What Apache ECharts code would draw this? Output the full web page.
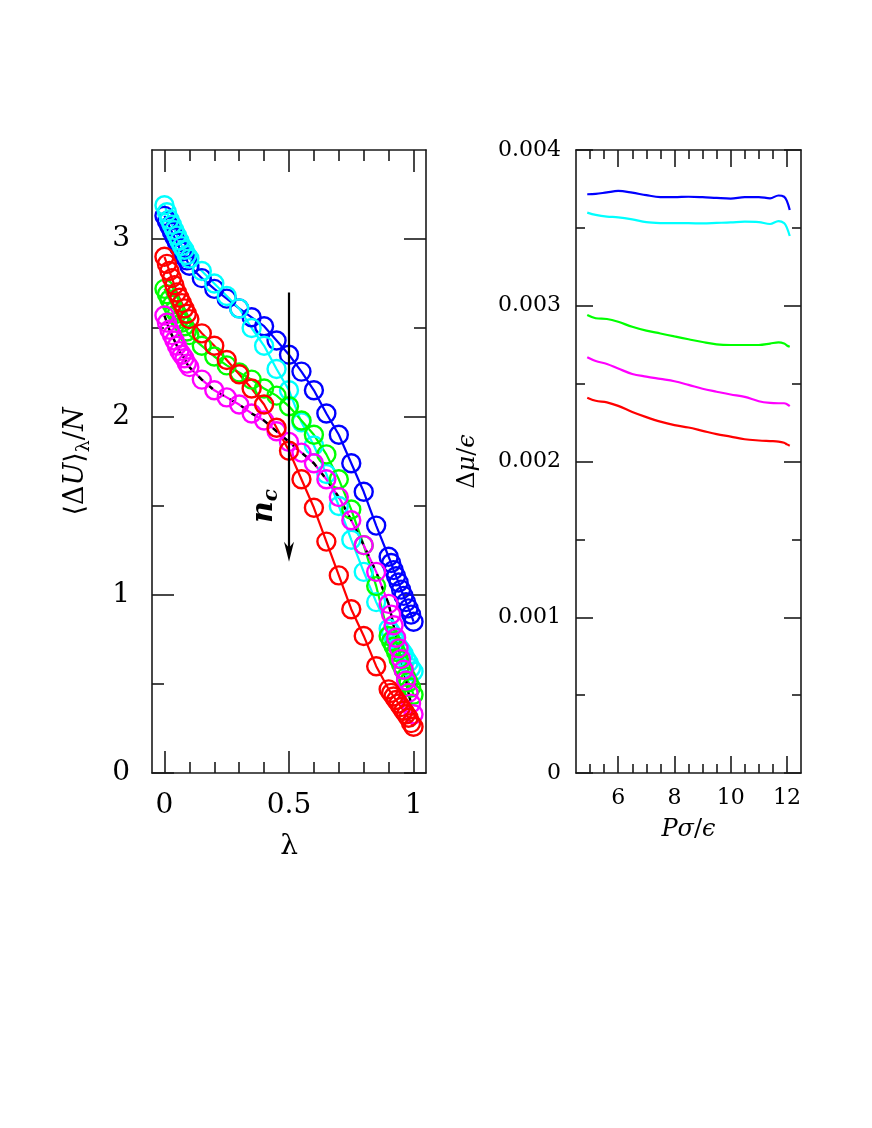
<!DOCTYPE html>
<html><head><meta charset="utf-8">
<script src="https://cdn.jsdelivr.net/npm/echarts@6/dist/echarts.min.js"></script>
<style>html,body{margin:0;padding:0;background:#fff}#c{width:872px;height:1128px}</style>
</head><body><div id="c"></div>
<script>
// ---- left panel data: <ΔU>_λ / N versus λ ----
const lambda = [0,0.01,0.02,0.03,0.04,0.05,0.06,0.07,0.08,0.09,0.10,
  0.15,0.20,0.25,0.30,0.35,0.40,0.45,0.50,0.55,0.60,0.65,0.70,0.75,0.80,0.85,
  0.90,0.91,0.92,0.93,0.94,0.95,0.96,0.97,0.98,0.99,1.00];
const uBlue = [3.13,3.10,3.07,3.04,3.01,2.98,2.95,2.93,2.90,2.88,2.85,
  2.78,2.72,2.665,2.61,2.56,2.51,2.43,2.35,2.255,2.15,2.02,1.90,1.74,1.58,1.39,
  1.215,1.18,1.14,1.105,1.07,1.03,0.995,0.96,0.925,0.89,0.85];
const uCyan = [3.19,3.15,3.11,3.08,3.05,3.02,2.99,2.96,2.94,2.91,2.89,
  2.82,2.75,2.68,2.61,2.50,2.40,2.27,2.15,1.97,1.84,1.68,1.50,1.31,1.13,0.96,
  0.81,0.79,0.76,0.74,0.71,0.69,0.67,0.64,0.62,0.59,0.57];
const uGreen = [2.72,2.69,2.66,2.63,2.60,2.58,2.55,2.53,2.51,2.48,2.46,
  2.40,2.34,2.29,2.25,2.21,2.16,2.12,2.06,1.98,1.90,1.79,1.65,1.48,1.28,1.05,
  0.77,0.74,0.71,0.68,0.64,0.61,0.58,0.54,0.51,0.48,0.44];
const uMagenta = [2.57,2.53,2.49,2.46,2.43,2.40,2.37,2.35,2.33,2.30,2.28,
  2.21,2.15,2.11,2.07,2.02,1.98,1.92,1.86,1.80,1.74,1.65,1.55,1.42,1.28,1.13,
  0.95,0.89,0.83,0.76,0.70,0.64,0.58,0.52,0.45,0.39,0.33];
const uRed = [2.90,2.86,2.82,2.78,2.74,2.70,2.67,2.64,2.61,2.58,2.55,
  2.47,2.40,2.32,2.24,2.16,2.07,1.94,1.81,1.65,1.49,1.30,1.11,0.92,0.77,0.60,
  0.47,0.45,0.43,0.41,0.39,0.37,0.35,0.33,0.31,0.28,0.26];
// arrow (λ, from, to) and label anchor (λ, value)
const arrowNc = [[0.5, 2.70, 1.187]];
const labelNc = [[0.405, 1.50]];

// ---- right panel data: Δμ/ε versus Pσ/ε ----
const pressure = [4.9,5.2,5.6,6.0,6.5,7.0,7.5,8.0,8.5,9.0,9.5,10.0,10.5,11.0,11.4,11.7,11.9,12.0,12.1];
const muBlue = [0.003716,0.003718,0.003728,0.003737,0.003726,0.003710,0.003698,0.003697,0.003700,0.003697,0.003692,0.003688,0.003698,0.003698,0.003690,0.003708,0.003700,0.003672,0.003615];
const muCyan = [0.003598,0.003583,0.003572,0.003568,0.003555,0.003537,0.003531,0.003530,0.003530,0.003529,0.003532,0.003535,0.003540,0.003537,0.003525,0.003543,0.003530,0.003500,0.003448];
const muGreen = [0.002941,0.002920,0.002915,0.002897,0.002865,0.002840,0.002822,0.002803,0.002785,0.002767,0.002752,0.002748,0.002748,0.002748,0.002757,0.002765,0.002758,0.002745,0.002737];
const muMagenta = [0.002669,0.002645,0.002626,0.002597,0.002562,0.002545,0.002530,0.002515,0.002492,0.002467,0.002448,0.002430,0.002415,0.002387,0.002376,0.002374,0.002374,0.002368,0.002356];
const muRed = [0.002410,0.002390,0.002380,0.002357,0.002318,0.002285,0.002256,0.002234,0.002218,0.002197,0.002176,0.002160,0.002143,0.002135,0.002131,0.002128,0.002120,0.002110,0.002101];

// ---- ticks ----
const lamMajor = [0,0.5,1];
const lamMinor = [0.1,0.2,0.3,0.4,0.6,0.7,0.8,0.9];
const uMajor = [0,1,2,3];
const uMinor = [0.5,1.5,2.5];
const pMajor = [6,8,10,12];
const pMinor = [5,5.5,6.5,7,7.5,8.5,9,9.5,10.5,11,11.5];
const muMajor = [0,0.001,0.002,0.003,0.004];
const muMinor = [0.0005,0.0015,0.0025,0.0035];

const SERIF = '"DejaVu Serif","Liberation Serif",serif';
const INK = '#1a1a1a';

function ax(grid, pos, min, max, ticks, len, lineShow, label) {
  const a = {
    type: 'value', gridIndex: grid, position: pos, min: min, max: max,
    splitLine: {show: false},
    axisLine: {show: lineShow, onZero: false, lineStyle: {color: INK, width: 1.6}},
    axisTick: {show: true, inside: true, length: len, customValues: ticks, lineStyle: {color: INK, width: 1.6}},
    axisLabel: {show: false}
  };
  if (label) Object.assign(a, label);
  return a;
}

const xAxes = [
  ax(0,'bottom',-0.05,1.05,lamMajor,22,true,{
    axisLabel:{show:true, customValues: lamMajor, margin: 19, color:'#000', fontFamily: SERIF, fontSize: 28,
      formatter: v => String(v)},
    name: 'λ', nameLocation: 'middle', nameGap: 60,
    nameTextStyle: {color:'#000', fontFamily: SERIF, fontSize: 28}
  }),
  ax(0,'bottom',-0.05,1.05,lamMinor,11,false),
  ax(0,'top',-0.05,1.05,lamMajor,22,true),
  ax(0,'top',-0.05,1.05,lamMinor,11,false),
  ax(1,'bottom',4.5,12.5,pMajor,17,true,{
    axisLabel:{show:true, customValues: pMajor, margin: 14, color:'#000', fontFamily: SERIF, fontSize: 22,
      formatter: v => String(v)},
    name: '{i|P}{i|σ}{r|/}{i|ϵ}', nameLocation: 'middle', nameGap: 45,
    nameTextStyle: {color:'#000', fontFamily: SERIF, fontSize: 24,
      rich: {i:{fontStyle:'italic', fontFamily: SERIF, fontSize: 24, color:'#000'},
             r:{fontFamily: SERIF, fontSize: 24, color:'#000'}}}
  }),
  ax(1,'bottom',4.5,12.5,pMinor,9,false),
  ax(1,'top',4.5,12.5,pMajor,17,true),
  ax(1,'top',4.5,12.5,pMinor,9,false)
];

const yAxes = [
  ax(0,'left',0,3.5,uMajor,22,true,{
    axisLabel:{show:true, customValues: uMajor, margin: 22, color:'#000', fontFamily: SERIF, fontSize: 28,
      formatter: v => String(v)},
    name: '{r|⟨Δ}{i|U}{r|⟩}{s|λ}{r|/}{i|N}', nameLocation: 'middle', nameGap: 58, nameRotate: 90,
    nameTextStyle: {color:'#000', fontFamily: SERIF, fontSize: 27,
      rich: {
        r:{fontFamily: SERIF, fontSize: 27, color:'#000', lineHeight: 32, verticalAlign:'top'},
        i:{fontFamily: SERIF, fontStyle:'italic', fontSize: 27, color:'#000', lineHeight: 32, verticalAlign:'top'},
        s:{fontFamily: SERIF, fontSize: 19, color:'#000', lineHeight: 19, verticalAlign:'bottom'}
      }}
  }),
  ax(0,'left',0,3.5,uMinor,12,false),
  ax(0,'right',0,3.5,uMajor,22,true),
  ax(0,'right',0,3.5,uMinor,12,false),
  ax(1,'left',0,0.004,muMajor,17,true,{
    axisLabel:{show:true, customValues: muMajor, margin: 15, color:'#000', fontFamily: SERIF, fontSize: 22,
      formatter: v => (v === 0 ? '0' : v.toFixed(3))},
    name: '{r|Δ}{i|μ}{r|/}{i|ϵ}', nameLocation: 'middle', nameGap: 96, nameRotate: 90,
    nameTextStyle: {color:'#000', fontFamily: SERIF, fontSize: 24,
      rich: {i:{fontStyle:'italic', fontFamily: SERIF, fontSize: 24, color:'#000'},
             r:{fontFamily: SERIF, fontSize: 24, color:'#000'}}}
  }),
  ax(1,'left',0,0.004,muMinor,9,false),
  ax(1,'right',0,0.004,muMajor,17,true),
  ax(1,'right',0,0.004,muMinor,9,false)
];

function pts(xs, ys) { return xs.map((x, i) => [x, ys[i]]); }

function circles(name, color, ys) {
  return {
    name: name, type: 'line', xAxisIndex: 0, yAxisIndex: 0,
    data: pts(lambda, ys),
    symbol: 'circle', symbolSize: 18, showSymbol: true,
    itemStyle: {color: 'rgba(255,255,255,0)', borderColor: color, borderWidth: 2.4},
    lineStyle: {color: color, width: 2.2},
    emphasis: {disabled: true}, silent: true, animation: false
  };
}
function blackPart(i0, i1, dashed) {
  return {
    type: 'line', xAxisIndex: 0, yAxisIndex: 0,
    data: pts(lambda.slice(i0, i1), uMagenta.slice(i0, i1)),
    symbol: 'none', smooth: false,
    lineStyle: {color: '#000', width: 2.4, type: dashed ? [6, 7] : 'solid'},
    emphasis: {disabled: true}, silent: true, animation: false, z: 3
  };
}
function muLine(color, ys) {
  return {
    type: 'line', xAxisIndex: 4, yAxisIndex: 4,
    data: pts(pressure, ys), symbol: 'none', smooth: 0.35,
    lineStyle: {color: color, width: 2.2},
    emphasis: {disabled: true}, silent: true, animation: false
  };
}

const series = [
  circles('blue', '#0000ff', uBlue),
  circles('cyan', '#00ffff', uCyan),
  circles('green', '#00ff00', uGreen),
  circles('magenta', '#ff00ff', uMagenta),
  blackPart(0, 11, false),
  blackPart(10, 27, true),
  blackPart(26, 37, false),
  circles('red', '#ff0000', uRed),
  {
    type: 'custom', xAxisIndex: 0, yAxisIndex: 0, data: arrowNc, silent: true, animation: false, z: 5,
    renderItem: function (params, api) {
      const top = api.coord([api.value(0), api.value(1)]);
      const tip = api.coord([api.value(0), api.value(2)]);
      return {type: 'group', children: [
        {type: 'line', shape: {x1: top[0], y1: top[1], x2: tip[0], y2: tip[1] - 8},
         style: {stroke: '#000', lineWidth: 2.2}},
        {type: 'polygon', shape: {points: [[tip[0], tip[1]], [tip[0] - 5, tip[1] - 20], [tip[0], tip[1] - 14], [tip[0] + 5, tip[1] - 20]]},
         style: {fill: '#000'}}
      ]};
    }
  },
  {
    type: 'custom', xAxisIndex: 0, yAxisIndex: 0, data: labelNc, silent: true, animation: false, z: 5,
    renderItem: function (params, api) {
      const p = api.coord([api.value(0), api.value(1)]);
      return {type: 'text', x: p[0], y: p[1], rotation: Math.PI / 2,
        style: {text: '{n|n}{c|c}', align: 'center', verticalAlign: 'middle',
          rich: {
            n: {fontFamily: SERIF, fontStyle: 'italic', fontWeight: 'bold', fontSize: 30, fill: '#000', lineHeight: 32, verticalAlign: 'top'},
            c: {fontFamily: SERIF, fontStyle: 'italic', fontWeight: 'bold', fontSize: 20, fill: '#000', lineHeight: 20, verticalAlign: 'bottom'}
          }}};
    }
  },
  muLine('#0000ff', muBlue),
  muLine('#00ffff', muCyan),
  muLine('#00ff00', muGreen),
  muLine('#ff00ff', muMagenta),
  muLine('#ff0000', muRed)
];

const chart = echarts.init(document.getElementById('c'), null, {renderer: 'canvas'});
chart.setOption({
  backgroundColor: '#fff',
  animation: false,
  grid: [
    {left: 152, top: 150, width: 274, height: 623, containLabel: false},
    {left: 576, top: 150, width: 225, height: 623, containLabel: false}
  ],
  xAxis: xAxes,
  yAxis: yAxes,
  series: series
});
</script>
</body></html>
